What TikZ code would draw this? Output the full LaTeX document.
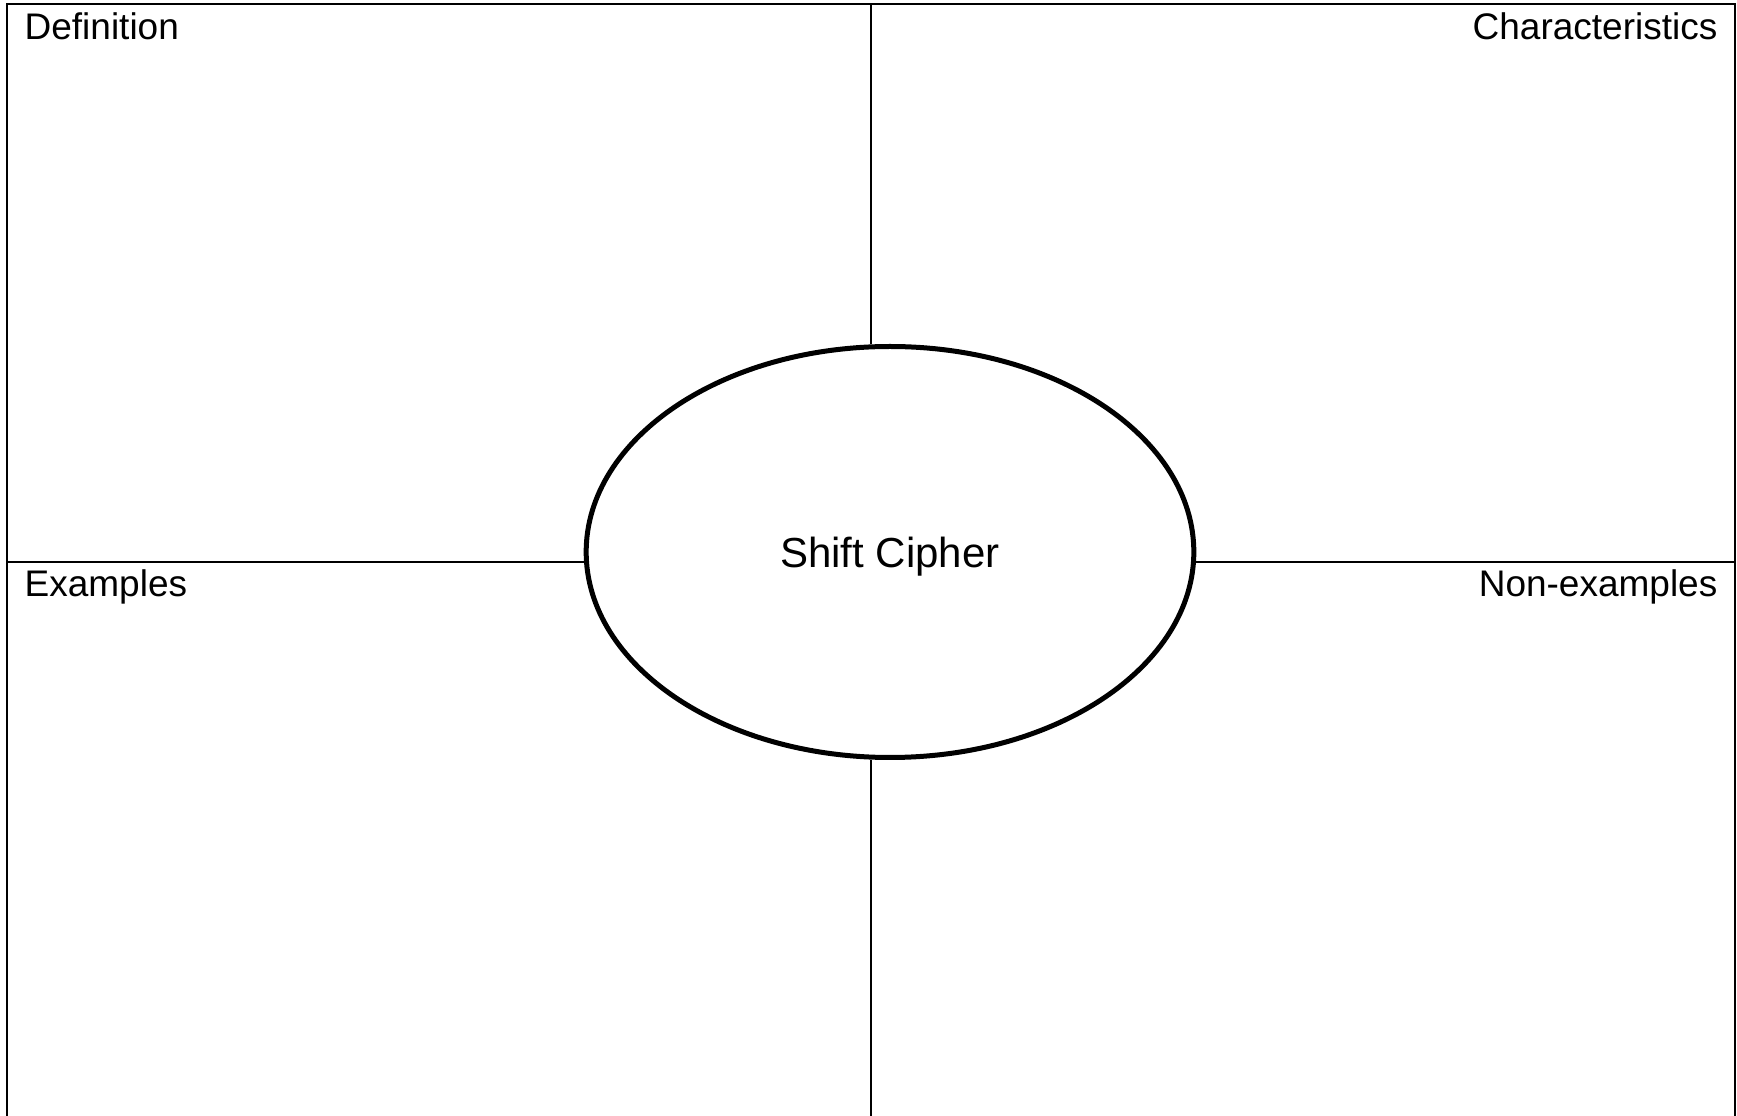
\documentclass[tikz,border=0pt]{standalone}
\usepackage{fontspec}
\setmainfont{Liberation Sans}
\usepackage{tikz}
\usetikzlibrary{shapes.geometric, positioning}

\begin{document}
\begin{tikzpicture}[x=0.3pt, y=-0.3pt,
  frame/.style={line width=0.6pt},
  corner/.style={inner sep=0pt, font=\fontsize{11.1}{13}\selectfont},
  hub/.style={ellipse, draw, line width=1.5pt, fill=white, inner sep=0pt,
    minimum width=182.3pt, minimum height=123.3pt, text depth=0pt,
    font=\fontsize{12.6}{15}\selectfont}]

  \useasboundingbox (0,0) rectangle (1737,1116);

  \node[hub] (cipher) at (890,552) {Shift Cipher};

  \node[corner, anchor=base west] (defn) at (24,40) {Definition};
  \node[corner, anchor=base east] (chars) at (1718,40) {Characteristics};
  \node[corner, anchor=base west] (exmp) at (24,597) {Examples};
  \node[corner, anchor=base east] (nonex) at (1718,597) {Non-examples};

  % frame and quadrant dividers
  \coordinate (tl) at (7,4.5);
  \coordinate (tr) at (1735,4.5);
  \coordinate (bl) at (7,1116);
  \coordinate (br) at (1735,1116);
  \coordinate (topmid) at (871,4.5);
  \coordinate (botmid) at (871,1116);
  \coordinate (lmid) at (7,562);
  \coordinate (rmid) at (1735,562);

  \draw[frame] (bl) -- (tl) -- (tr) -- (br);
  \draw[frame] (topmid) -- (topmid |- cipher.north);
  \draw[frame] (botmid) -- (botmid |- cipher.south);
  \draw[frame] (lmid) -- (lmid -| cipher.west);
  \draw[frame] (rmid) -- (rmid -| cipher.east);
\end{tikzpicture}
\end{document}
